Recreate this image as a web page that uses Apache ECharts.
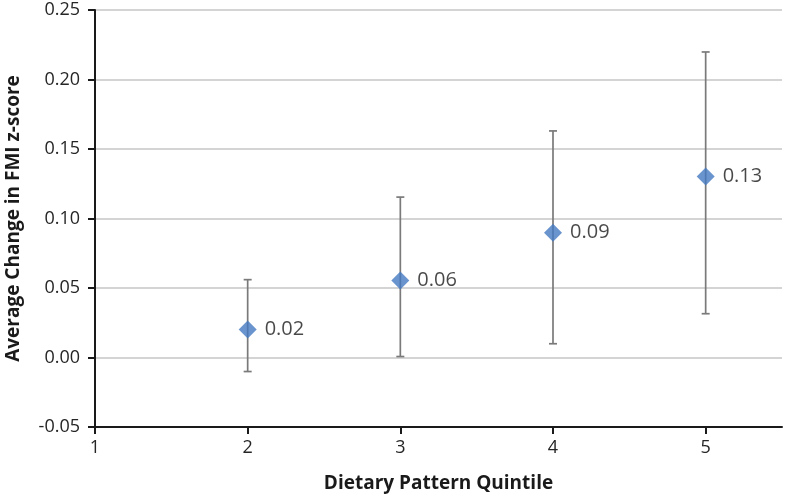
<!DOCTYPE html>
<html>
<head>
<meta charset="utf-8">
<script src="https://cdn.jsdelivr.net/npm/echarts@6/dist/echarts.min.js"></script>
<style>html,body{margin:0;padding:0;background:#fff}#c{width:785px;height:499px}</style>
</head>
<body>
<div id="c"></div>
<script>
const quintiles = [2, 3, 4, 5];
const means = [0.0202, 0.0554, 0.0898, 0.1303];
const lowerCI = [-0.0101, 0.0007, 0.0099, 0.0315];
const upperCI = [0.0560, 0.1154, 0.1630, 0.2198];
const pointLabels = ['0.02', '0.06', '0.09', '0.13'];
const xTicks = [1, 2, 3, 4, 5];
const yTicks = [-0.05, 0, 0.05, 0.10, 0.15, 0.20, 0.25];

const FONT = '"Open Sans", sans-serif';
const chart = echarts.init(document.getElementById('c'), null, {renderer: 'canvas'});

const scatterData = quintiles.map((q, i) => ({value: [q, means[i]], label: {formatter: pointLabels[i]}}));
const errData = quintiles.map((q, i) => [q, lowerCI[i], upperCI[i]]);

chart.setOption({
  animation: false,
  backgroundColor: '#ffffff',
  grid: {left: 95, right: 3, top: 10, bottom: 72, containLabel: false, outerBoundsMode: 'none'},
  xAxis: {
    type: 'value', min: 1, max: 5.5, interval: 1,
    name: 'Dietary Pattern Quintile', nameLocation: 'middle', nameGap: 47,
    nameTextStyle: {fontFamily: FONT, fontSize: 19, fontWeight: 'bold', color: '#1a1a1a'},
    axisLine: {show: true, onZero: false, lineStyle: {color: '#1a1a1a', width: 2}},
    axisTick: {show: true, length: 7, customValues: xTicks, lineStyle: {color: '#1a1a1a', width: 2}},
    axisLabel: {customValues: xTicks, margin: 12, fontFamily: FONT, fontSize: 18, color: '#262626',
      formatter: v => String(v)},
    splitLine: {show: false}
  },
  yAxis: {
    type: 'value', min: -0.05, max: 0.25, interval: 0.05,
    name: 'Average Change in FMI z-score', nameLocation: 'middle', nameGap: 72,
    nameTextStyle: {fontFamily: FONT, fontSize: 19, fontWeight: 'bold', color: '#1a1a1a'},
    axisLine: {show: true, onZero: false, lineStyle: {color: '#1a1a1a', width: 2}},
    axisTick: {show: true, length: 7, lineStyle: {color: '#1a1a1a', width: 2}},
    axisLabel: {margin: 15, fontFamily: FONT, fontSize: 18, color: '#262626',
      formatter: v => v.toFixed(2)},
    splitLine: {show: true, lineStyle: {color: '#d4d4d4', width: 2}}
  },
  series: [
    {
      type: 'custom',
      z: 2,
      data: errData,
      renderItem: function (params, api) {
        const x = api.value(0);
        const lo = api.coord([x, api.value(1)]);
        const hi = api.coord([x, api.value(2)]);
        const cap = 4;
        const style = {stroke: '#7a7a7a', lineWidth: 1.7};
        return {
          type: 'group',
          children: [
            {type: 'line', shape: {x1: lo[0], y1: lo[1], x2: hi[0], y2: hi[1]}, style: style},
            {type: 'line', shape: {x1: lo[0] - cap, y1: lo[1], x2: lo[0] + cap, y2: lo[1]}, style: style},
            {type: 'line', shape: {x1: hi[0] - cap, y1: hi[1], x2: hi[0] + cap, y2: hi[1]}, style: style}
          ]
        };
      }
    },
    {
      type: 'scatter',
      z: 3,
      symbol: 'diamond',
      symbolSize: 18,
      itemStyle: {color: '#4579c0'},
      data: scatterData,
      label: {show: true, position: 'right', distance: 8, fontFamily: FONT, fontSize: 20, color: '#1a1a1a'}
    }
  ]
});
</script>
</body>
</html>
